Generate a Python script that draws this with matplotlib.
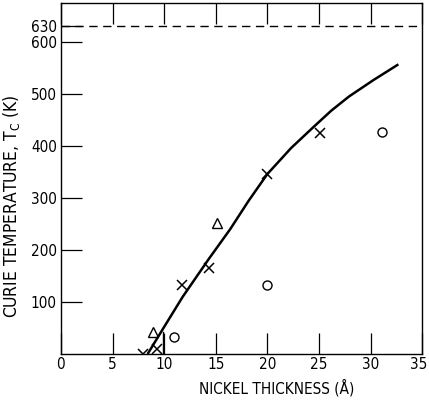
import matplotlib
matplotlib.use("Agg")
import matplotlib.pyplot as plt
from matplotlib.transforms import ScaledTranslation

plt.rcParams['font.family'] = ['DejaVu Sans']
plt.rcParams['font.stretch'] = 'condensed'

# data
x_cross = [8.0, 9.35, 11.7, 14.3, 20.0, 25.1]
y_cross = [0, 10, 133, 165, 346, 425]
x_tri = [8.96, 15.1]
y_tri = [43, 252]
x_circ = [10.96, 20.0, 31.1]
y_circ = [32, 133, 427]
curve_x = [8.4, 10.0, 11.8, 14.3, 16.4, 18.2, 20.0, 22.3, 24.5, 26.2, 27.9, 30.3, 32.7]
curve_y = [0, 52, 110, 182, 240, 295, 346, 396, 437, 468, 495, 527, 557]
bar_x = [9.93, 9.93]
bar_y = [0, 42]
dash_y = 630
xticks = [0, 5, 10, 15, 20, 25, 30, 35]
yticks = [100, 200, 300, 400, 500, 600, 630]

fig = plt.figure(figsize=(4.29, 4.03), dpi=100)
ax = fig.add_axes([0.142, 0.1216, 0.842, 0.871])

ax.plot(curve_x, curve_y, color='black', lw=1.8, solid_capstyle='butt', solid_joinstyle='round')
ax.plot(bar_x, bar_y, color='black', lw=1.0)
ax.axhline(dash_y, color='black', lw=1.0, ls=(0, (6, 4)))
ax.plot(x_cross, y_cross, ls='none', marker='x', ms=7, mew=1.1, color='black')
ax.plot(x_tri, y_tri, ls='none', marker='^', ms=7, mew=1.0, mfc='none', mec='black')
ax.plot(x_circ, y_circ, ls='none', marker='o', ms=6.5, mew=1.0, mfc='none', mec='black')

ax.set_xlim(0, 35)
ax.set_ylim(0, 675)
ax.set_xticks(xticks)
ax.set_xticklabels([str(v) for v in xticks])
ax.set_yticks(yticks)
ax.set_yticklabels([str(v) for v in yticks])
ax.tick_params(axis='both', direction='in', length=15, width=0.9, labelsize=11, pad=3)
ax.tick_params(axis='x', top=True, pad=2)
for s in ax.spines.values():
    s.set_linewidth(1.0)

last = ax.get_xticklabels()[-1]
last.set_transform(last.get_transform() + ScaledTranslation(-3 / 100, 0, fig.dpi_scale_trans))

ax.set_xlabel('NICKEL THICKNESS (Å)', fontsize=11)
ax.xaxis.set_label_coords(0.597, -0.072)
ax.set_ylabel('CURIE TEMPERATURE, T$_\\mathregular{C}$ (K)', fontsize=12.5)
ax.yaxis.set_label_coords(-0.108, 0.42)

fig.savefig('out.png', dpi=100)
